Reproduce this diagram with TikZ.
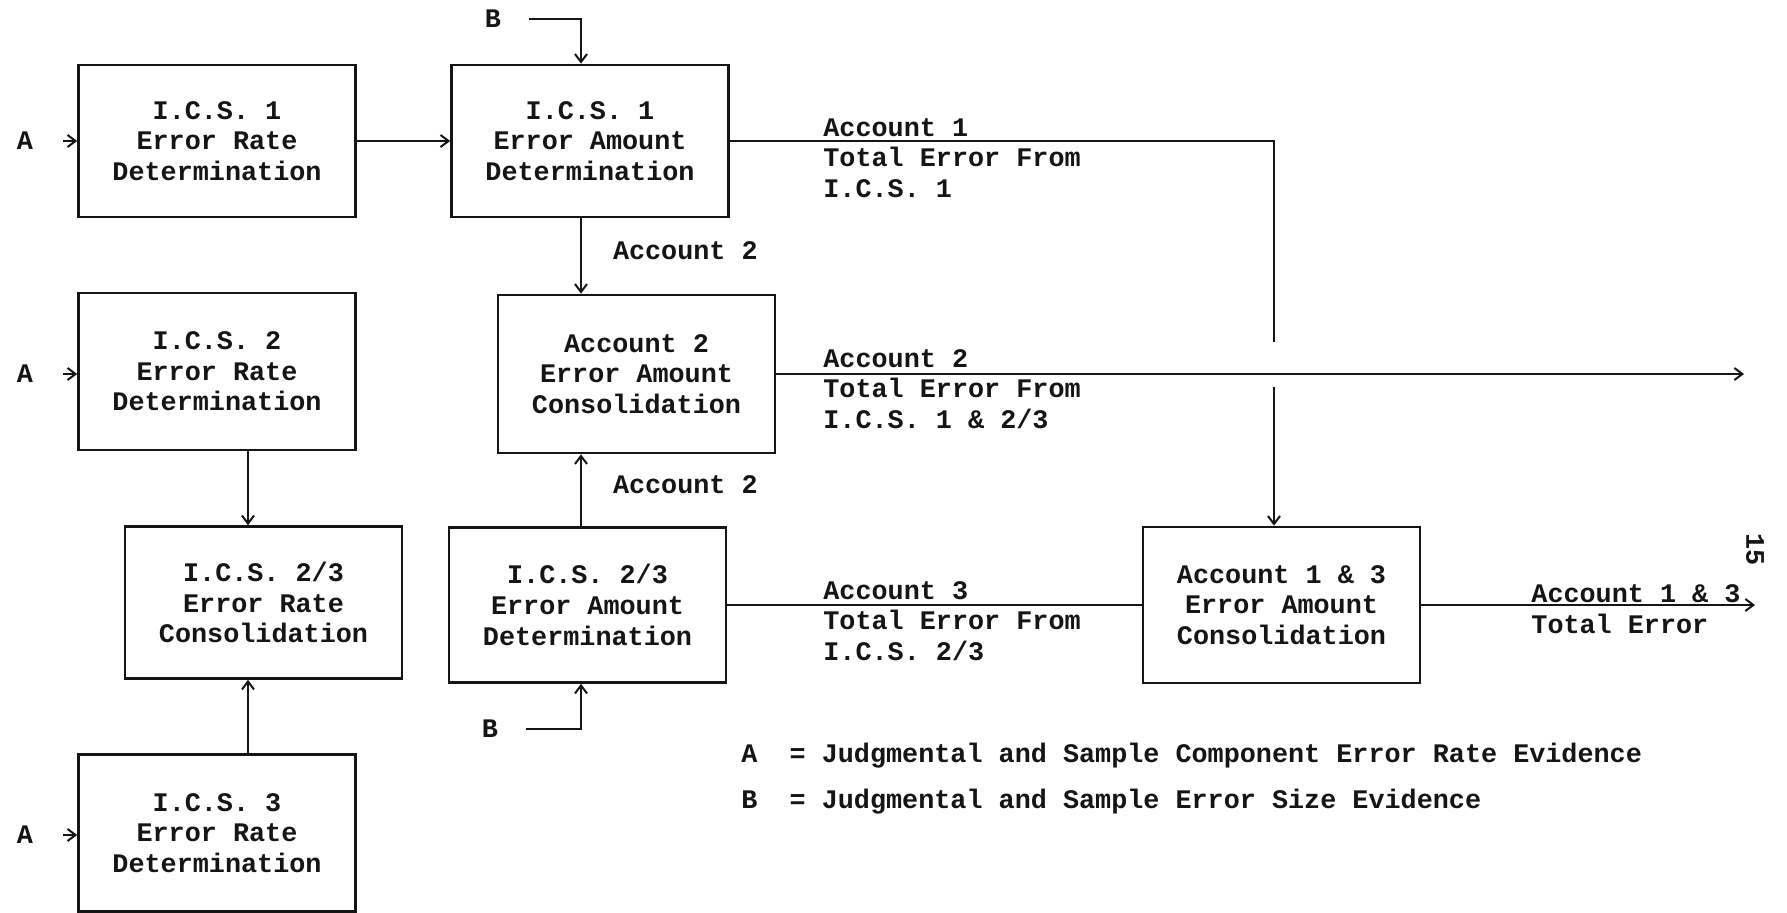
\documentclass[tikz,border=0pt]{standalone}
\usepackage{fontspec}
\setmainfont{Liberation Mono}
\usepackage{tikz}
\usetikzlibrary{arrows.meta,positioning,calc}
\definecolor{inkx}{HTML}{151515}
\newcommand{\tw}{\fontsize{13.4}{15.3}\selectfont\bfseries}
\tikzset{
  box/.style={draw=inkx,line width=1.3pt,minimum width=138.5pt,minimum height=76pt,align=center,inner sep=0pt,font=\tw,text=inkx},
  lbl/.style={inner sep=0pt,font=\tw,text=inkx},
  note/.style={lbl,anchor=west,align=left},
  ar/.style={-{Straight Barb[length=4pt,width=6pt]},line width=1pt,inkx},
  ln/.style={line width=1pt,inkx}
}

\begin{document}
\begin{tikzpicture}[x=0.5pt,y=-0.5pt]
\useasboundingbox (0,0) rectangle (1787,913);
% boxes
\node[box] (rate1) at (217,141) {I.C.S. 1\\Error Rate\\Determination};
\node[box] (amt1) at (590,141) {I.C.S. 1\\Error Amount\\Determination};
\node[box,minimum height=78.5pt] (rate2) at (217,371.5) {I.C.S. 2\\Error Rate\\Determination};
\node[box,minimum height=79pt] (cons2) at (636.5,374) {Account 2\\Error Amount\\Consolidation};
\node[box] (rate23) at (263.5,602.5) {I.C.S. 2/3\\Error Rate\\Consolidation};
\node[box,minimum height=77.5pt] (amt23) at (587.5,605) {I.C.S. 2/3\\Error Amount\\Determination};
\node[box,minimum height=78.5pt] (rate3) at (217,833) {I.C.S. 3\\Error Rate\\Determination};
\node[box,minimum height=78pt] (cons13) at (1281.5,605) {Account 1 \& 3\\Error Amount\\Consolidation};
% inputs
\node[lbl] (inA1) at (25,141) {A};
\node[lbl] (inA2) at (25,374) {A};
\node[lbl] (inA3) at (25,835) {A};
\node[lbl] (inB1) at (493,19) {B};
\node[lbl] (inB2) at (490,729) {B};
\draw[ar,shorten <=15pt] (inA1) -- (inA1 -| rate1.west);
\draw[ar,shorten <=15pt] (inA2) -- (inA2 -| rate2.west);
\draw[ar,shorten <=15pt] (inA3) -- (inA3 -| rate3.west);
% columns of the vertical links
\coordinate (colR) at (248,0);
\coordinate (colA) at (581,0);
\coordinate (colT) at (1274,0);
\draw[ar,shorten <=14pt] (inB1) -| (amt1.north -| colA);
\draw[ar,shorten <=14pt] (inB2) -| (amt23.south -| colA);
% links
\draw[ar] (rate1) -- (amt1);
\draw[ar] (amt1.south -| colA) -- (cons2.north -| colA)
  node[lbl,midway,anchor=west,xshift=15.5pt,yshift=2.5pt] (acc2a) {Account 2};
\draw[ar] (amt23.north -| colA) -- (cons2.south -| colA)
  node[lbl,midway,anchor=west,xshift=15.5pt,yshift=3pt] (acc2b) {Account 2};
\draw[ar] (rate2.south -| colR) -- (rate23.north -| colR);
\draw[ar] (rate3.north -| colR) -- (rate23.south -| colR);
\coordinate (gapT) at (1274,342);
\coordinate (gapB) at (1274,387);
\draw[ln] (amt1) -- (amt1 -| colT) -- (gapT);
\draw[ar] (gapB) -- (cons13.north -| colT);
\coordinate (end2) at (1744,374);
\draw[ar] (cons2) -- (end2);
\draw[ln] (amt23) -- (cons13);
\coordinate (end13) at (1755,605);
\draw[ar] (cons13) -- (end13);
% line texts
\node[note] (tot1) at (823,158) {Account 1\\Total Error From\\I.C.S. 1};
\node[note] (tot2) at (823,389) {Account 2\\Total Error From\\I.C.S. 1 \& 2/3};
\node[note] (tot3) at (823,621) {Account 3\\Total Error From\\I.C.S. 2/3};
\node[note] (tot13) at (1531,609) {Account 1 \& 3\\Total Error};
% key
\node[lbl,anchor=west] (keyA) at (741,756) {A\ \ =\ Judgmental and Sample Component Error Rate Evidence};
\node[lbl,anchor=west] (keyB) at (741,802) {B\ \ =\ Judgmental and Sample Error Size Evidence};
\node[lbl,rotate=-90] (pgno) at (1755,550) {15};
\end{tikzpicture}
\end{document}
